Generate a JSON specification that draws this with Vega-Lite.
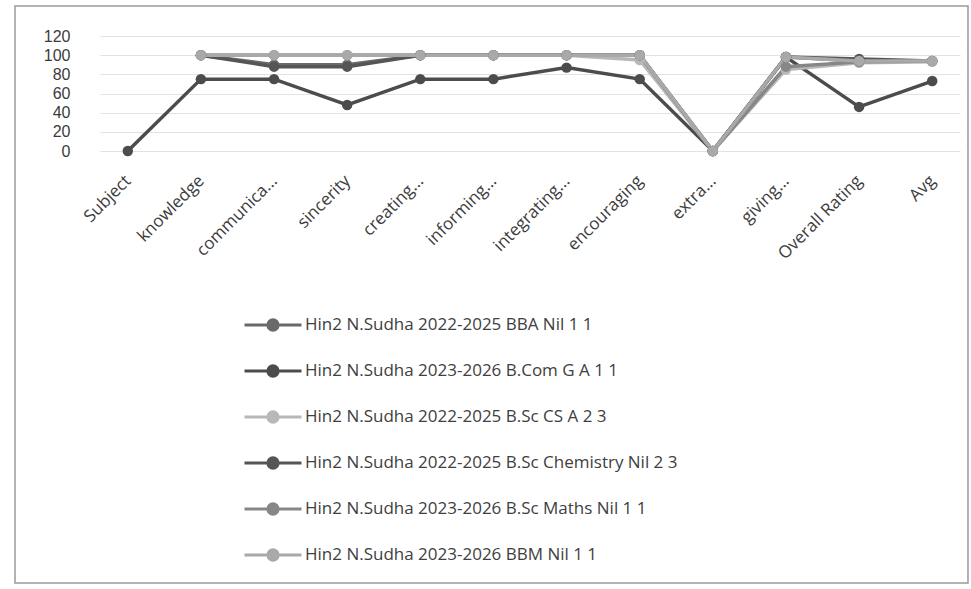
{
  "$schema": "https://vega.github.io/schema/vega-lite/v6.json",
  "width": 953,
  "height": 577,
  "autosize": {"type": "none"},
  "padding": {"left": 15, "top": 6, "right": 3, "bottom": 6},
  "background": "white",
  "config": {
    "font": "Open Sans",
    "view": {"stroke": "#9a9a9a", "strokeWidth": 1.5}
  },
  "datasets": {
    "scores": [
      {"series": "Hin2 N.Sudha 2022-2025 BBA Nil 1 1", "criterion": "knowledge", "score": 100},
      {"series": "Hin2 N.Sudha 2022-2025 BBA Nil 1 1", "criterion": "communica...", "score": 90},
      {"series": "Hin2 N.Sudha 2022-2025 BBA Nil 1 1", "criterion": "sincerity", "score": 90},
      {"series": "Hin2 N.Sudha 2022-2025 BBA Nil 1 1", "criterion": "creating...", "score": 100},
      {"series": "Hin2 N.Sudha 2022-2025 BBA Nil 1 1", "criterion": "informing...", "score": 100},
      {"series": "Hin2 N.Sudha 2022-2025 BBA Nil 1 1", "criterion": "integrating...", "score": 100},
      {"series": "Hin2 N.Sudha 2022-2025 BBA Nil 1 1", "criterion": "encouraging", "score": 100},
      {"series": "Hin2 N.Sudha 2022-2025 BBA Nil 1 1", "criterion": "extra...", "score": 0},
      {"series": "Hin2 N.Sudha 2022-2025 BBA Nil 1 1", "criterion": "giving...", "score": 98},
      {"series": "Hin2 N.Sudha 2022-2025 BBA Nil 1 1", "criterion": "Overall Rating", "score": 94},
      {"series": "Hin2 N.Sudha 2022-2025 BBA Nil 1 1", "criterion": "Avg", "score": 94},

      {"series": "Hin2 N.Sudha 2023-2026 B.Com G A 1 1", "criterion": "Subject", "score": 0},
      {"series": "Hin2 N.Sudha 2023-2026 B.Com G A 1 1", "criterion": "knowledge", "score": 75},
      {"series": "Hin2 N.Sudha 2023-2026 B.Com G A 1 1", "criterion": "communica...", "score": 75},
      {"series": "Hin2 N.Sudha 2023-2026 B.Com G A 1 1", "criterion": "sincerity", "score": 48},
      {"series": "Hin2 N.Sudha 2023-2026 B.Com G A 1 1", "criterion": "creating...", "score": 75},
      {"series": "Hin2 N.Sudha 2023-2026 B.Com G A 1 1", "criterion": "informing...", "score": 75},
      {"series": "Hin2 N.Sudha 2023-2026 B.Com G A 1 1", "criterion": "integrating...", "score": 87},
      {"series": "Hin2 N.Sudha 2023-2026 B.Com G A 1 1", "criterion": "encouraging", "score": 75},
      {"series": "Hin2 N.Sudha 2023-2026 B.Com G A 1 1", "criterion": "extra...", "score": 0},
      {"series": "Hin2 N.Sudha 2023-2026 B.Com G A 1 1", "criterion": "giving...", "score": 98},
      {"series": "Hin2 N.Sudha 2023-2026 B.Com G A 1 1", "criterion": "Overall Rating", "score": 46},
      {"series": "Hin2 N.Sudha 2023-2026 B.Com G A 1 1", "criterion": "Avg", "score": 73},

      {"series": "Hin2 N.Sudha 2022-2025 B.Sc CS A 2 3", "criterion": "knowledge", "score": 100},
      {"series": "Hin2 N.Sudha 2022-2025 B.Sc CS A 2 3", "criterion": "communica...", "score": 100},
      {"series": "Hin2 N.Sudha 2022-2025 B.Sc CS A 2 3", "criterion": "sincerity", "score": 100},
      {"series": "Hin2 N.Sudha 2022-2025 B.Sc CS A 2 3", "criterion": "creating...", "score": 100},
      {"series": "Hin2 N.Sudha 2022-2025 B.Sc CS A 2 3", "criterion": "informing...", "score": 100},
      {"series": "Hin2 N.Sudha 2022-2025 B.Sc CS A 2 3", "criterion": "integrating...", "score": 100},
      {"series": "Hin2 N.Sudha 2022-2025 B.Sc CS A 2 3", "criterion": "encouraging", "score": 95},
      {"series": "Hin2 N.Sudha 2022-2025 B.Sc CS A 2 3", "criterion": "extra...", "score": 0},
      {"series": "Hin2 N.Sudha 2022-2025 B.Sc CS A 2 3", "criterion": "giving...", "score": 85},
      {"series": "Hin2 N.Sudha 2022-2025 B.Sc CS A 2 3", "criterion": "Overall Rating", "score": 92},
      {"series": "Hin2 N.Sudha 2022-2025 B.Sc CS A 2 3", "criterion": "Avg", "score": 93},

      {"series": "Hin2 N.Sudha 2022-2025 B.Sc Chemistry Nil 2 3", "criterion": "knowledge", "score": 100},
      {"series": "Hin2 N.Sudha 2022-2025 B.Sc Chemistry Nil 2 3", "criterion": "communica...", "score": 88},
      {"series": "Hin2 N.Sudha 2022-2025 B.Sc Chemistry Nil 2 3", "criterion": "sincerity", "score": 88},
      {"series": "Hin2 N.Sudha 2022-2025 B.Sc Chemistry Nil 2 3", "criterion": "creating...", "score": 100},
      {"series": "Hin2 N.Sudha 2022-2025 B.Sc Chemistry Nil 2 3", "criterion": "informing...", "score": 100},
      {"series": "Hin2 N.Sudha 2022-2025 B.Sc Chemistry Nil 2 3", "criterion": "integrating...", "score": 100},
      {"series": "Hin2 N.Sudha 2022-2025 B.Sc Chemistry Nil 2 3", "criterion": "encouraging", "score": 100},
      {"series": "Hin2 N.Sudha 2022-2025 B.Sc Chemistry Nil 2 3", "criterion": "extra...", "score": 0},
      {"series": "Hin2 N.Sudha 2022-2025 B.Sc Chemistry Nil 2 3", "criterion": "giving...", "score": 98},
      {"series": "Hin2 N.Sudha 2022-2025 B.Sc Chemistry Nil 2 3", "criterion": "Overall Rating", "score": 96},
      {"series": "Hin2 N.Sudha 2022-2025 B.Sc Chemistry Nil 2 3", "criterion": "Avg", "score": 94},

      {"series": "Hin2 N.Sudha 2023-2026 B.Sc Maths Nil 1 1", "criterion": "knowledge", "score": 100},
      {"series": "Hin2 N.Sudha 2023-2026 B.Sc Maths Nil 1 1", "criterion": "communica...", "score": 100},
      {"series": "Hin2 N.Sudha 2023-2026 B.Sc Maths Nil 1 1", "criterion": "sincerity", "score": 100},
      {"series": "Hin2 N.Sudha 2023-2026 B.Sc Maths Nil 1 1", "criterion": "creating...", "score": 100},
      {"series": "Hin2 N.Sudha 2023-2026 B.Sc Maths Nil 1 1", "criterion": "informing...", "score": 100},
      {"series": "Hin2 N.Sudha 2023-2026 B.Sc Maths Nil 1 1", "criterion": "integrating...", "score": 100},
      {"series": "Hin2 N.Sudha 2023-2026 B.Sc Maths Nil 1 1", "criterion": "encouraging", "score": 100},
      {"series": "Hin2 N.Sudha 2023-2026 B.Sc Maths Nil 1 1", "criterion": "extra...", "score": 0},
      {"series": "Hin2 N.Sudha 2023-2026 B.Sc Maths Nil 1 1", "criterion": "giving...", "score": 88},
      {"series": "Hin2 N.Sudha 2023-2026 B.Sc Maths Nil 1 1", "criterion": "Overall Rating", "score": 93},
      {"series": "Hin2 N.Sudha 2023-2026 B.Sc Maths Nil 1 1", "criterion": "Avg", "score": 94},

      {"series": "Hin2 N.Sudha 2023-2026 BBM Nil 1 1", "criterion": "knowledge", "score": 100},
      {"series": "Hin2 N.Sudha 2023-2026 BBM Nil 1 1", "criterion": "communica...", "score": 100},
      {"series": "Hin2 N.Sudha 2023-2026 BBM Nil 1 1", "criterion": "sincerity", "score": 100},
      {"series": "Hin2 N.Sudha 2023-2026 BBM Nil 1 1", "criterion": "creating...", "score": 100},
      {"series": "Hin2 N.Sudha 2023-2026 BBM Nil 1 1", "criterion": "informing...", "score": 100},
      {"series": "Hin2 N.Sudha 2023-2026 BBM Nil 1 1", "criterion": "integrating...", "score": 100},
      {"series": "Hin2 N.Sudha 2023-2026 BBM Nil 1 1", "criterion": "encouraging", "score": 100},
      {"series": "Hin2 N.Sudha 2023-2026 BBM Nil 1 1", "criterion": "extra...", "score": 0},
      {"series": "Hin2 N.Sudha 2023-2026 BBM Nil 1 1", "criterion": "giving...", "score": 98},
      {"series": "Hin2 N.Sudha 2023-2026 BBM Nil 1 1", "criterion": "Overall Rating", "score": 94},
      {"series": "Hin2 N.Sudha 2023-2026 BBM Nil 1 1", "criterion": "Avg", "score": 94}
    ]
  },
  "data": {"name": "scores"},
  "mark": {"type": "line", "strokeWidth": 3.5, "point": {"filled": true, "size": 110}},
  "encoding": {
    "x": {
      "field": "criterion",
      "type": "ordinal",
      "sort": ["Subject", "knowledge", "communica...", "sincerity", "creating...", "informing...", "integrating...", "encouraging", "extra...", "giving...", "Overall Rating", "Avg"],
      "scale": {"type": "point", "range": [85, 945], "padding": 0.38},
      "axis": {
        "title": null,
        "offset": -432,
        "domain": false,
        "ticks": false,
        "grid": false,
        "labelAngle": -45,
        "labelAlign": "right",
        "labelBaseline": "middle",
        "labelPadding": 27,
        "labelFontSize": 17,
        "labelColor": "#3c3c3c",
        "labelLimit": 200
      }
    },
    "y": {
      "field": "score",
      "type": "quantitative",
      "scale": {"domain": [0, 120], "range": [145, 30], "nice": false},
      "axis": {
        "title": null,
        "offset": -57,
        "domain": false,
        "ticks": false,
        "values": [0, 20, 40, 60, 80, 100, 120],
        "labelPadding": 2,
        "labelFont": "Liberation Sans",
        "labelFontSize": 16,
        "labelColor": "#3c3c3c",
        "grid": true,
        "gridColor": "#e2e2e2",
        "gridWidth": 1
      }
    },
    "color": {
      "field": "series",
      "type": "nominal",
      "scale": {
        "domain": ["Hin2 N.Sudha 2022-2025 BBA Nil 1 1", "Hin2 N.Sudha 2023-2026 B.Com G A 1 1", "Hin2 N.Sudha 2022-2025 B.Sc CS A 2 3", "Hin2 N.Sudha 2022-2025 B.Sc Chemistry Nil 2 3", "Hin2 N.Sudha 2023-2026 B.Sc Maths Nil 1 1", "Hin2 N.Sudha 2023-2026 BBM Nil 1 1"],
        "range": ["#6a6a6a", "#4c4c4c", "#b8b8b8", "#555555", "#878787", "#a9a9a9"]
      },
      "legend": {
        "title": null,
        "orient": "none",
        "legendX": 228,
        "legendY": 289,
        "direction": "vertical",
        "symbolType": "M-1,0H1M0.18,0A0.18,0.18,0,1,1,-0.18,0A0.18,0.18,0,1,1,0.18,0Z",
        "symbolSize": 3249,
        "symbolStrokeWidth": 3,
        "labelFontSize": 17,
        "labelColor": "#404040",
        "labelOffset": 2,
        "labelLimit": 600,
        "rowPadding": 4
      }
    }
  }
}
